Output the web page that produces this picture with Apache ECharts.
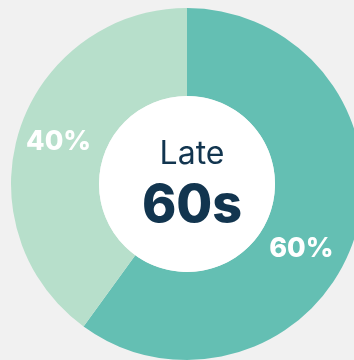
<!DOCTYPE html>
<html>
<head>
<meta charset="utf-8">
<script src="https://cdn.jsdelivr.net/npm/echarts@6/dist/echarts.min.js"></script>
<style>
  html, body { margin: 0; padding: 0; background: #f1f1f1; }
  #chart { width: 354px; height: 360px; }
</style>
</head>
<body>
<div id="chart"></div>
<script>
// Share of group by age band
const categories = ['Late 60s', 'Other'];
const shares = [60, 40];
const sliceColors = ['#64bfb3', '#b7dfcb'];
const centerLines = ['Late', '60s'];

const chart = echarts.init(document.getElementById('chart'), null, { renderer: 'canvas' });

const labelOffsets = [[-14, 23], [0, 0]];

chart.setOption({
  backgroundColor: '#f1f1f1',
  animation: false,
  title: {
    text: '{a|' + centerLines[0] + '}\n{b|' + centerLines[1] + '}',
    left: 187,
    top: 175,
    textAlign: 'center',
    textVerticalAlign: 'middle',
    textStyle: {
      rich: {
        a: { fontFamily: 'Inter', fontWeight: 400, fontSize: 32, color: '#12354f', lineHeight: 52, align: 'center' },
        b: { fontFamily: 'Inter', fontWeight: 800, fontSize: 52, color: '#12354f', lineHeight: 52, align: 'center' }
      }
    }
  },
  series: [
    {
      type: 'pie',
      center: [187, 184],
      radius: [88, 176],
      startAngle: 90,
      clockwise: true,
      silent: true,
      itemStyle: { borderWidth: 0 },
      label: {
        show: true,
        position: 'inside',
        formatter: '{c}%',
        color: '#ffffff',
        fontFamily: 'Inter',
        fontWeight: 800,
        fontSize: 27
      },
      labelLine: { show: false },
      data: categories.map((name, i) => ({
        name: name,
        value: shares[i],
        itemStyle: { color: sliceColors[i] },
        label: { offset: labelOffsets[i] }
      }))
    },
    {
      // white hub behind the center text
      type: 'pie',
      center: [187, 184],
      radius: [0, 88],
      silent: true,
      label: { show: false },
      labelLine: { show: false },
      itemStyle: { color: '#ffffff' },
      data: [{ value: 1, name: 'hub' }]
    }
  ]
});
</script>
</body>
</html>
